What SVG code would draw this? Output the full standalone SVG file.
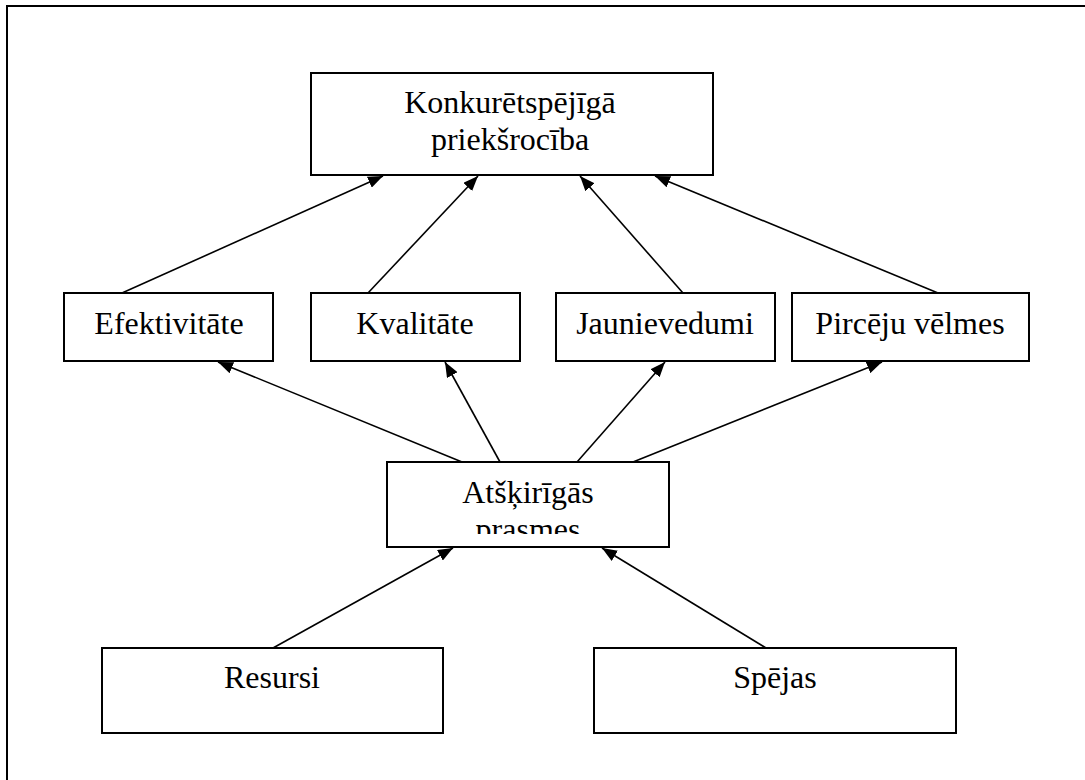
<svg xmlns="http://www.w3.org/2000/svg" width="1085" height="780" viewBox="0 0 1085 780">
<style>
.box{fill:#fff;stroke:#000;stroke-width:2}
.t{font-family:"Liberation Serif","Times New Roman","DejaVu Serif",serif;font-size:32px;fill:#000;text-anchor:middle}
.c line{stroke:#000;stroke-width:1.6;marker-end:url(#ah)}
</style>
<defs>
<marker id="ah" viewBox="0 0 10 10" refX="10" refY="5" markerWidth="15" markerHeight="12" markerUnits="userSpaceOnUse" orient="auto" preserveAspectRatio="none">
<path d="M0,0 L10,5 L0,10 z" fill="#000"/>
</marker>
<clipPath id="clipA"><rect x="387" y="462" width="282" height="72"/></clipPath>
</defs>
<rect x="0" y="0" width="1085" height="780" fill="#fff"/>
<rect x="7" y="6" width="1100" height="800" fill="none" stroke="#000" stroke-width="2"/>
<g class="c" id="connectors">
<line x1="122" y1="293" x2="383" y2="176"/>
<line x1="368" y1="293" x2="478" y2="176"/>
<line x1="683" y1="293" x2="580" y2="176"/>
<line x1="938" y1="293" x2="655" y2="176"/>
<line x1="462" y1="462" x2="218" y2="362"/>
<line x1="500" y1="462" x2="445" y2="362"/>
<line x1="577" y1="462" x2="665" y2="362"/>
<line x1="633" y1="462" x2="882" y2="362"/>
<line x1="273" y1="648" x2="453" y2="548"/>
<line x1="766" y1="648" x2="602" y2="548"/>
</g>
<g id="top">
<rect class="box" x="311" y="73" width="402" height="102"/>
<text class="t" x="510" y="113">Konkurētspējīgā</text>
<text class="t" x="510" y="150">priekšrocība</text>
</g>
<g id="efektivitate">
<rect class="box" x="64" y="293" width="209" height="68"/>
<text class="t" x="169" y="334">Efektivitāte</text>
</g>
<g id="kvalitate">
<rect class="box" x="311" y="293" width="209" height="68"/>
<text class="t" x="415" y="334">Kvalitāte</text>
</g>
<g id="jaunievedumi">
<rect class="box" x="556" y="293" width="219" height="68"/>
<text class="t" x="665" y="334">Jaunievedumi</text>
</g>
<g id="pirceju">
<rect class="box" x="792" y="293" width="237" height="68"/>
<text class="t" x="910" y="334">Pircēju vēlmes</text>
</g>
<g id="atskirigas">
<rect class="box" x="387" y="462" width="282" height="85"/>
<g clip-path="url(#clipA)">
<text class="t" x="528" y="503">Atšķirīgās</text>
<text class="t" x="528" y="540">prasmes</text>
</g>
</g>
<g id="resursi">
<rect class="box" x="102" y="648" width="341" height="85"/>
<text class="t" x="272" y="688">Resursi</text>
</g>
<g id="spejas">
<rect class="box" x="594" y="648" width="362" height="85"/>
<text class="t" x="775" y="688">Spējas</text>
</g>
</svg>
